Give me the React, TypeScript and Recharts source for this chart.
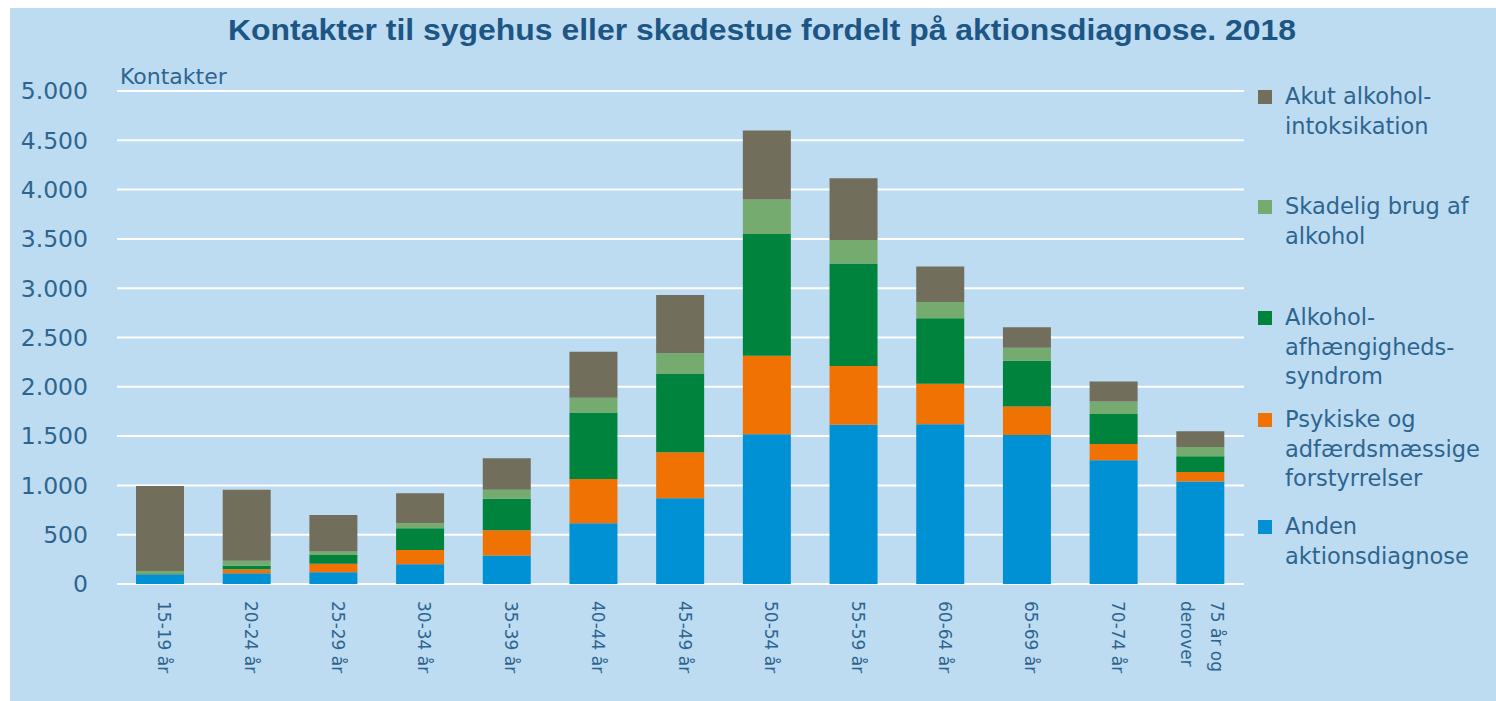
import { BarChart, Bar, XAxis, YAxis, CartesianGrid } from "recharts";

const categories = [
  "15-19 år", "20-24 år", "25-29 år", "30-34 år", "35-39 år", "40-44 år", "45-49 år",
  "50-54 år", "55-59 år", "60-64 år", "65-69 år", "70-74 år", "75 år og derover",
];

// stacked from the bottom up
const anden = [100, 110, 120, 200, 290, 615, 870, 1520, 1615, 1620, 1510, 1255, 1040];
const psykiske = [3, 40, 85, 145, 255, 450, 465, 795, 595, 410, 290, 165, 95];
const afhaengighed = [5, 35, 90, 220, 320, 675, 800, 1235, 1040, 665, 465, 305, 160];
const skadelig = [25, 50, 35, 50, 90, 150, 205, 350, 240, 165, 130, 125, 95];
const akut = [860, 720, 370, 305, 320, 465, 590, 700, 625, 360, 210, 205, 160];

const yTicks = [0, 500, 1000, 1500, 2000, 2500, 3000, 3500, 4000, 4500, 5000];

const seriesKeys = ["anden", "psykiske", "afhaengighed", "skadelig", "akut"];
const seriesNames = [
  "Anden\naktionsdiagnose",
  "Psykiske og\nadfærdsmæssige\nforstyrrelser",
  "Alkohol-\nafhængigheds-\nsyndrom",
  "Skadelig brug af\nalkohol",
  "Akut alkohol-\nintoksikation",
];
const seriesColors = ["#0090d4", "#ef7203", "#00843d", "#76ab6f", "#726e5c"];

const data = categories.map((c, i) => ({
  name: c,
  anden: anden[i],
  psykiske: psykiske[i],
  afhaengighed: afhaengighed[i],
  skadelig: skadelig[i],
  akut: akut[i],
}));

const W = 1486;
const H = 693;
const BG = "#bddcf1";
const TEXT = "#2e6590";
const FONT = "'DejaVu Sans', sans-serif";

const fmt = (v: number) => String(v).replace(/\B(?=(\d{3})+(?!\d))/g, ".");

// top of each legend entry, legend is drawn top to bottom (last series first)
const legendTops = [74, 184, 295, 397, 504];

const XTick = (props: any) => {
  const { x, y, payload } = props;
  const words = String(payload.value).split(" ");
  const lines = words.length > 2 ? [words.slice(0, 3).join(" "), words.slice(3).join(" ")] : [words.join(" ")];
  const offs = lines.length > 1 ? [-16, 14] : [-4];
  return (
    <g transform={`translate(${x},${y})`}>
      {lines.map((l, i) => (
        <text key={i} transform="rotate(90)" x={0} y={offs[i]} textAnchor="start"
          dominantBaseline="central" fill={TEXT} fontSize={17} fontFamily={FONT}>
          {l}
        </text>
      ))}
    </g>
  );
};

const LegendBox = () => {
  const order = [4, 3, 2, 1, 0];
  return (
    <div style={{ position: "absolute", left: 1248, top: 0, width: 236, height: 600 }}>
      {order.map((s, i) => (
        <div key={seriesKeys[s]} style={{ position: "absolute", top: legendTops[i], left: 0 }}>
          <div style={{ position: "absolute", left: 0, top: 8, width: 14, height: 14, background: seriesColors[s] }} />
          <div style={{ marginLeft: 27, whiteSpace: "pre", fontFamily: FONT, fontSize: 22.5,
            lineHeight: "29.5px", color: TEXT }}>
            {seriesNames[s]}
          </div>
        </div>
      ))}
    </div>
  );
};

export default function App() {
  return (
    <div style={{ position: "absolute", left: 10, top: 8, width: W, height: H, background: BG }}>
      <BarChart width={W} height={H} data={data} barSize={48}
        margin={{ top: 83, right: 252, bottom: 0, left: 0 }}>
        <CartesianGrid vertical={false} stroke="#ffffff" strokeWidth={2} />
        <XAxis dataKey="name" interval={0} height={117} axisLine={false} tickLine={false}
          tickMargin={11} tick={<XTick />} />
        <YAxis width={107} domain={[0, 5000]} ticks={yTicks} axisLine={false} tickLine={false}
          tickSize={0} tickMargin={29} tickFormatter={fmt}
          tick={{ fill: TEXT, fontSize: 23.5, fontFamily: FONT }} />
        {seriesKeys.map((k, i) => (
          <Bar key={k} dataKey={k} name={seriesNames[i]} stackId="a" fill={seriesColors[i]}
            isAnimationActive={false} />
        ))}
      </BarChart>
      <LegendBox />
      <svg width={W} height={H} style={{ position: "absolute", left: 0, top: 0, pointerEvents: "none" }}>
        <text x={218} y={32} textLength={1068} lengthAdjust="spacingAndGlyphs" fill="#1d5685"
          fontFamily="'Liberation Sans', Arial, sans-serif" fontWeight="bold" fontSize={29}>
          Kontakter til sygehus eller skadestue fordelt på aktionsdiagnose. 2018
        </text>
        <text x={110} y={76} fill={TEXT} fontFamily={FONT} fontSize={22}>Kontakter</text>
      </svg>
    </div>
  );
}
